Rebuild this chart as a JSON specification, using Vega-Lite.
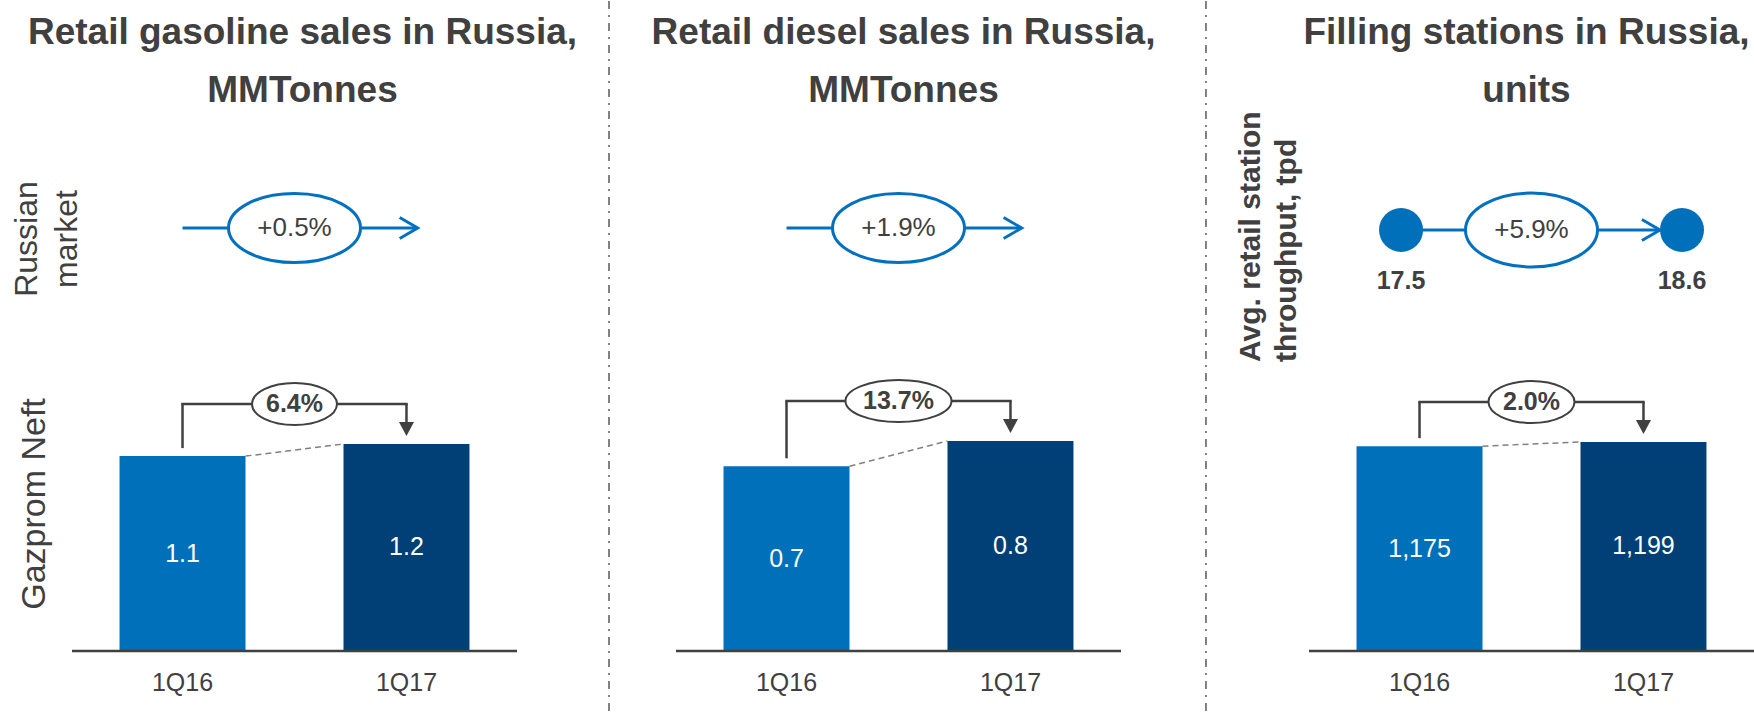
{
  "$schema": "https://vega.github.io/schema/vega-lite/v6.json",
  "padding": {"left": 10, "top": 0, "right": 0, "bottom": 0},
  "autosize": {"type": "pad"},
  "background": "white",
  "config": {"view": {"stroke": null}, "font": "Liberation Sans"},
  "datasets": {
    "titles": [
      {"panel": "gasoline", "title": "Retail gasoline sales in Russia,\nMMTonnes"},
      {"panel": "diesel", "title": "Retail diesel sales in Russia,\nMMTonnes"},
      {"panel": "stations", "title": "Filling stations in Russia,\nunits"}
    ],
    "gasoline": [{"period": "1Q16", "value": 1.13}, {"period": "1Q17", "value": 1.2}],
    "diesel": [{"period": "1Q16", "value": 0.73}, {"period": "1Q17", "value": 0.83}],
    "stations": [{"period": "1Q16", "value": 1175}, {"period": "1Q17", "value": 1199}],
    "gasoline_growth": [{"from": 1.13, "to": 1.2, "pct": "6.4%"}],
    "diesel_growth": [{"from": 0.73, "to": 0.83, "pct": "13.7%"}],
    "stations_growth": [{"from": 1175, "to": 1199, "pct": "2.0%"}],
    "market": [{"product": "gasoline", "pct": "+0.5%"}, {"product": "diesel", "pct": "+1.9%"}],
    "throughput": [{"period": "1Q16", "tpd": 17.5}, {"period": "1Q17", "tpd": 18.6}],
    "throughput_growth": [{"pct": "+5.9%"}],
    "divider": [{"k": "divider"}]
  },
  "columns": 5,
  "spacing": 0,
  "bounds": "flush",
  "align": "each",
  "resolve": {"scale": {"x": "independent", "y": "independent", "color": "independent"}},
  "concat": [
    {
      "width": 445, "height": 130,
      "data": {"name": "titles"},
      "transform": [{"filter": "datum.panel == 'gasoline'"}],
      "mark": {"type": "text", "lineBreak": "\n", "fontSize": 37, "fontWeight": "bold", "lineHeight": 58, "color": "#404040", "align": "center", "baseline": "middle", "dx": 8, "dy": -33},
      "encoding": {"text": {"field": "title", "type": "nominal"}}
    },
    {
      "width": 159, "height": 130,
      "data": {"name": "divider"},
      "mark": {"type": "rule", "color": "#595959", "strokeWidth": 1.5, "strokeDash": [8, 6, 2, 6]},
      "encoding": {"x": {"field": "k", "type": "nominal", "scale": {"type": "point", "padding": 0, "align": 0.5786}, "axis": null}}
    },
    {
      "width": 445, "height": 130,
      "data": {"name": "titles"},
      "transform": [{"filter": "datum.panel == 'diesel'"}],
      "mark": {"type": "text", "lineBreak": "\n", "fontSize": 37, "fontWeight": "bold", "lineHeight": 58, "color": "#404040", "align": "center", "baseline": "middle", "dx": 5, "dy": -33},
      "encoding": {"text": {"field": "title", "type": "nominal"}}
    },
    {
      "width": 188, "height": 130,
      "data": {"name": "divider"},
      "mark": {"type": "rule", "color": "#595959", "strokeWidth": 1.5, "strokeDash": [8, 6, 2, 6]},
      "encoding": {"x": {"field": "k", "type": "nominal", "scale": {"type": "point", "padding": 0, "align": 0.452}, "axis": null}}
    },
    {
      "width": 445, "height": 130,
      "data": {"name": "titles"},
      "transform": [{"filter": "datum.panel == 'stations'"}],
      "mark": {"type": "text", "lineBreak": "\n", "fontSize": 37, "fontWeight": "bold", "lineHeight": 58, "color": "#404040", "align": "center", "baseline": "middle", "dx": -5, "dy": -33},
      "encoding": {"text": {"field": "title", "type": "nominal"}}
    },

    {
      "width": 445, "height": 194,
      "title": {"text": ["Russian", "market"], "orient": "left", "anchor": "middle", "fontSize": 32, "fontWeight": "normal", "color": "#404040", "lineHeight": 40, "offset": -12, "dx": -11},
      "data": {"name": "market"},
      "transform": [{"filter": "datum.product == 'gasoline'"}],
      "layer": [
        {"mark": {"type": "rule", "color": "#0070C0", "strokeWidth": 3},
         "encoding": {"x": {"datum": "1Q16", "type": "nominal", "scale": {"type": "band", "domain": ["1Q16", "growth", "1Q17"], "paddingInner": 0, "paddingOuter": 0.487}, "axis": null}, "x2": {"datum": "1Q17", "bandPosition": 0.6}}},
        {"mark": {"type": "point", "shape": "M-1,-0.58L0,0L-1,0.58", "size": 1296, "filled": false, "stroke": "#0070C0", "strokeWidth": 3, "opacity": 1},
         "encoding": {"x": {"datum": "1Q17", "type": "nominal", "bandPosition": 0.6, "scale": {"type": "band", "domain": ["1Q16", "growth", "1Q17"], "paddingInner": 0, "paddingOuter": 0.487}, "axis": null}}},
        {"mark": {"type": "point", "shape": "M-1,0C-1,-0.289 -0.552,-0.523 0,-0.523C0.552,-0.523 1,-0.289 1,0C1,0.289 0.552,0.523 0,0.523C-0.552,0.523 -1,0.289 -1,0Z", "size": 17424, "filled": true, "fill": "#ffffff", "stroke": "#0070C0", "strokeWidth": 3, "opacity": 1},
         "encoding": {"x": {"datum": "growth", "type": "nominal", "scale": {"type": "band", "domain": ["1Q16", "growth", "1Q17"], "paddingInner": 0, "paddingOuter": 0.487}, "axis": null}}},
        {"mark": {"type": "text", "fontSize": 26, "color": "#404040", "baseline": "middle"},
         "encoding": {"x": {"datum": "growth", "type": "nominal", "scale": {"type": "band", "domain": ["1Q16", "growth", "1Q17"], "paddingInner": 0, "paddingOuter": 0.487}, "axis": null}, "text": {"field": "pct", "type": "nominal"}}}
      ]
    },
    {
      "width": 159, "height": 198,
      "data": {"name": "divider"},
      "mark": {"type": "rule", "color": "#595959", "strokeWidth": 1.5, "strokeDash": [8, 6, 2, 6]},
      "encoding": {"x": {"field": "k", "type": "nominal", "scale": {"type": "point", "padding": 0, "align": 0.5786}, "axis": null}}
    },
    {
      "width": 445, "height": 194,
      "data": {"name": "market"},
      "transform": [{"filter": "datum.product == 'diesel'"}],
      "layer": [
        {"mark": {"type": "rule", "color": "#0070C0", "strokeWidth": 3},
         "encoding": {"x": {"datum": "1Q16", "type": "nominal", "scale": {"type": "band", "domain": ["1Q16", "growth", "1Q17"], "paddingInner": 0, "paddingOuter": 0.487}, "axis": null}, "x2": {"datum": "1Q17", "bandPosition": 0.6}}},
        {"mark": {"type": "point", "shape": "M-1,-0.58L0,0L-1,0.58", "size": 1296, "filled": false, "stroke": "#0070C0", "strokeWidth": 3, "opacity": 1},
         "encoding": {"x": {"datum": "1Q17", "type": "nominal", "bandPosition": 0.6, "scale": {"type": "band", "domain": ["1Q16", "growth", "1Q17"], "paddingInner": 0, "paddingOuter": 0.487}, "axis": null}}},
        {"mark": {"type": "point", "shape": "M-1,0C-1,-0.289 -0.552,-0.523 0,-0.523C0.552,-0.523 1,-0.289 1,0C1,0.289 0.552,0.523 0,0.523C-0.552,0.523 -1,0.289 -1,0Z", "size": 17424, "filled": true, "fill": "#ffffff", "stroke": "#0070C0", "strokeWidth": 3, "opacity": 1},
         "encoding": {"x": {"datum": "growth", "type": "nominal", "scale": {"type": "band", "domain": ["1Q16", "growth", "1Q17"], "paddingInner": 0, "paddingOuter": 0.487}, "axis": null}}},
        {"mark": {"type": "text", "fontSize": 26, "color": "#404040", "baseline": "middle"},
         "encoding": {"x": {"datum": "growth", "type": "nominal", "scale": {"type": "band", "domain": ["1Q16", "growth", "1Q17"], "paddingInner": 0, "paddingOuter": 0.487}, "axis": null}, "text": {"field": "pct", "type": "nominal"}}}
      ]
    },
    {
      "width": 188, "height": 198,
      "data": {"name": "divider"},
      "mark": {"type": "rule", "color": "#595959", "strokeWidth": 1.5, "strokeDash": [8, 6, 2, 6]},
      "encoding": {"x": {"field": "k", "type": "nominal", "scale": {"type": "point", "padding": 0, "align": 0.452}, "axis": null}}
    },
    {
      "width": 445, "height": 198,
      "title": {"text": ["Avg. retail station", "throughput, tpd"], "orient": "left", "anchor": "start", "align": "left", "fontSize": 30, "fontWeight": "bold", "color": "#404040", "lineHeight": 36, "offset": 7, "dx": -33},
      "layer": [
        {"data": {"name": "throughput_growth"},
         "mark": {"type": "rule", "color": "#0070C0", "strokeWidth": 3},
         "encoding": {"x": {"datum": "1Q16", "type": "nominal", "bandPosition": 0.335, "scale": {"type": "band", "domain": ["1Q16", "growth", "1Q17"], "paddingInner": 0, "paddingOuter": 0.487}, "axis": null}, "x2": {"datum": "1Q17", "bandPosition": 0.647}}},
        {"data": {"name": "throughput_growth"},
         "mark": {"type": "point", "shape": "M-1,-0.58L0,0L-1,0.58", "size": 1296, "filled": false, "stroke": "#0070C0", "strokeWidth": 3, "opacity": 1},
         "encoding": {"x": {"datum": "1Q17", "type": "nominal", "bandPosition": 0.647, "scale": {"type": "band", "domain": ["1Q16", "growth", "1Q17"], "paddingInner": 0, "paddingOuter": 0.487}, "axis": null}}},
        {"data": {"name": "throughput"},
         "transform": [{"filter": "datum.period == '1Q16'"}],
         "encoding": {"x": {"field": "period", "type": "nominal", "bandPosition": 0.335, "scale": {"type": "band", "domain": ["1Q16", "growth", "1Q17"], "paddingInner": 0, "paddingOuter": 0.487}, "axis": null}},
         "layer": [
           {"mark": {"type": "point", "shape": "circle", "size": 1936, "filled": true, "color": "#0070BA", "opacity": 1}},
           {"mark": {"type": "text", "fontSize": 25, "fontWeight": "bold", "color": "#404040", "baseline": "middle", "dy": 51},
            "encoding": {"text": {"field": "tpd", "type": "quantitative", "format": ".1f"}}}
         ]},
        {"data": {"name": "throughput"},
         "transform": [{"filter": "datum.period == '1Q17'"}],
         "encoding": {"x": {"field": "period", "type": "nominal", "bandPosition": 0.844, "scale": {"type": "band", "domain": ["1Q16", "growth", "1Q17"], "paddingInner": 0, "paddingOuter": 0.487}, "axis": null}},
         "layer": [
           {"mark": {"type": "point", "shape": "circle", "size": 1936, "filled": true, "color": "#0070BA", "opacity": 1}},
           {"mark": {"type": "text", "fontSize": 25, "fontWeight": "bold", "color": "#404040", "baseline": "middle", "dy": 51},
            "encoding": {"text": {"field": "tpd", "type": "quantitative", "format": ".1f"}}}
         ]},
        {"data": {"name": "throughput_growth"},
         "mark": {"type": "point", "shape": "M-1,0C-1,-0.309 -0.552,-0.56 0,-0.56C0.552,-0.56 1,-0.309 1,0C1,0.309 0.552,0.56 0,0.56C-0.552,0.56 -1,0.309 -1,0Z", "size": 17424, "filled": true, "fill": "#ffffff", "stroke": "#0070C0", "strokeWidth": 3, "opacity": 1},
         "encoding": {"x": {"datum": "growth", "type": "nominal", "scale": {"type": "band", "domain": ["1Q16", "growth", "1Q17"], "paddingInner": 0, "paddingOuter": 0.487}, "axis": null}}},
        {"data": {"name": "throughput_growth"},
         "mark": {"type": "text", "fontSize": 26, "color": "#404040", "baseline": "middle"},
         "encoding": {"x": {"datum": "growth", "type": "nominal", "scale": {"type": "band", "domain": ["1Q16", "growth", "1Q17"], "paddingInner": 0, "paddingOuter": 0.487}, "axis": null}, "text": {"field": "pct", "type": "nominal"}}}
      ]
    },

    {
      "width": 445, "height": 322,
      "title": {"text": "Gazprom Neft", "orient": "left", "anchor": "middle", "fontSize": 34, "fontWeight": "normal", "color": "#404040", "offset": 19, "dx": -14},
      "resolve": {"scale": {"y": "independent"}},
      "layer": [
        {"data": {"name": "gasoline_growth"},
         "mark": {"type": "rule", "color": "#808080", "strokeWidth": 1.5, "strokeDash": [6, 4]},
         "encoding": {"x": {"datum": "growth", "type": "nominal", "bandPosition": 0.0625, "scale": {"type": "band", "domain": ["1Q16", "growth", "1Q17"], "paddingInner": 0, "paddingOuter": 0.487}, "axis": null}, "x2": {"datum": "growth", "bandPosition": 0.9375},
                      "y": {"field": "from", "type": "quantitative", "scale": {"domain": [0, 1.867], "nice": false}, "axis": null}, "y2": {"field": "to"}}},
        {"data": {"name": "gasoline"},
         "mark": {"type": "bar", "width": {"band": 1.125}},
         "encoding": {"x": {"field": "period", "type": "nominal", "scale": {"type": "band", "domain": ["1Q16", "growth", "1Q17"], "paddingInner": 0, "paddingOuter": 0.487}, "axis": null},
                      "y": {"field": "value", "type": "quantitative", "scale": {"domain": [0, 1.867], "nice": false}, "axis": null},
                      "color": {"field": "period", "type": "nominal", "scale": {"domain": ["1Q16", "1Q17"], "range": ["#0070BA", "#004077"]}, "legend": null}}},
        {"data": {"name": "gasoline_growth"},
         "mark": {"type": "rule", "color": "#404040", "strokeWidth": 2.5},
         "encoding": {"y": {"datum": 0, "type": "quantitative", "scale": {"domain": [0, 1.867], "nice": false}, "axis": null}}},
        {"data": {"name": "gasoline"},
         "mark": {"type": "text", "color": "#404040", "fontSize": 25, "baseline": "top", "dy": 20},
         "encoding": {"x": {"field": "period", "type": "nominal", "scale": {"type": "band", "domain": ["1Q16", "growth", "1Q17"], "paddingInner": 0, "paddingOuter": 0.487}, "axis": null},
                      "y": {"datum": 0, "type": "quantitative", "scale": {"domain": [0, 1.867], "nice": false}, "axis": null},
                      "text": {"field": "period", "type": "nominal"}}},
        {"data": {"name": "gasoline"},
         "mark": {"type": "text", "color": "#ffffff", "fontSize": 25, "baseline": "middle"},
         "encoding": {"x": {"field": "period", "type": "nominal", "scale": {"type": "band", "domain": ["1Q16", "growth", "1Q17"], "paddingInner": 0, "paddingOuter": 0.487}, "axis": null},
                      "y": {"field": "value", "type": "quantitative", "scale": {"domain": [0, 3.733], "nice": false}, "axis": null},
                      "text": {"field": "value", "type": "quantitative", "format": ".1f"}}},
        {"data": {"name": "gasoline_growth"},
         "mark": {"type": "rule", "color": "#404040", "strokeWidth": 2.5, "yOffset": -8, "y2Offset": -40},
         "encoding": {"x": {"datum": "1Q16", "type": "nominal", "scale": {"type": "band", "domain": ["1Q16", "growth", "1Q17"], "paddingInner": 0, "paddingOuter": 0.487}, "axis": null},
                      "y": {"field": "from", "type": "quantitative", "scale": {"domain": [0, 1.867], "nice": false}, "axis": null}, "y2": {"field": "to"}}},
        {"data": {"name": "gasoline_growth"},
         "mark": {"type": "rule", "color": "#404040", "strokeWidth": 2.5, "yOffset": -40, "strokeCap": "square"},
         "encoding": {"x": {"datum": "1Q16", "type": "nominal", "scale": {"type": "band", "domain": ["1Q16", "growth", "1Q17"], "paddingInner": 0, "paddingOuter": 0.487}, "axis": null}, "x2": {"datum": "1Q17"},
                      "y": {"field": "to", "type": "quantitative", "scale": {"domain": [0, 1.867], "nice": false}, "axis": null}}},
        {"data": {"name": "gasoline_growth"},
         "mark": {"type": "rule", "color": "#404040", "strokeWidth": 2.5, "yOffset": -40, "y2Offset": -20},
         "encoding": {"x": {"datum": "1Q17", "type": "nominal", "scale": {"type": "band", "domain": ["1Q16", "growth", "1Q17"], "paddingInner": 0, "paddingOuter": 0.487}, "axis": null},
                      "y": {"field": "to", "type": "quantitative", "scale": {"domain": [0, 1.867], "nice": false}, "axis": null}, "y2": {"field": "to"}}},
        {"data": {"name": "gasoline_growth"},
         "mark": {"type": "point", "shape": "M-1,-0.93L1,-0.93L0,0.93Z", "size": 225, "filled": true, "color": "#404040", "opacity": 1, "yOffset": -15},
         "encoding": {"x": {"datum": "1Q17", "type": "nominal", "scale": {"type": "band", "domain": ["1Q16", "growth", "1Q17"], "paddingInner": 0, "paddingOuter": 0.487}, "axis": null},
                      "y": {"field": "to", "type": "quantitative", "scale": {"domain": [0, 1.867], "nice": false}, "axis": null}}},
        {"data": {"name": "gasoline_growth"},
         "mark": {"type": "point", "shape": "M-1,0C-1,-0.273 -0.552,-0.494 0,-0.494C0.552,-0.494 1,-0.273 1,0C1,0.273 0.552,0.494 0,0.494C-0.552,0.494 -1,0.273 -1,0Z", "size": 7225, "filled": true, "fill": "#ffffff", "stroke": "#404040", "strokeWidth": 2, "opacity": 1, "yOffset": -40},
         "encoding": {"x": {"datum": "growth", "type": "nominal", "scale": {"type": "band", "domain": ["1Q16", "growth", "1Q17"], "paddingInner": 0, "paddingOuter": 0.487}, "axis": null},
                      "y": {"field": "to", "type": "quantitative", "scale": {"domain": [0, 1.867], "nice": false}, "axis": null}}},
        {"data": {"name": "gasoline_growth"},
         "mark": {"type": "text", "fontSize": 25, "fontWeight": "bold", "color": "#404040", "baseline": "middle", "yOffset": -40},
         "encoding": {"x": {"datum": "growth", "type": "nominal", "scale": {"type": "band", "domain": ["1Q16", "growth", "1Q17"], "paddingInner": 0, "paddingOuter": 0.487}, "axis": null},
                      "y": {"field": "to", "type": "quantitative", "scale": {"domain": [0, 1.867], "nice": false}, "axis": null},
                      "text": {"field": "pct", "type": "nominal"}}}
      ]
    },
    {
      "width": 159, "height": 387,
      "data": {"name": "divider"},
      "mark": {"type": "rule", "color": "#595959", "strokeWidth": 1.5, "strokeDash": [8, 6, 2, 6]},
      "encoding": {"x": {"field": "k", "type": "nominal", "scale": {"type": "point", "padding": 0, "align": 0.5786}, "axis": null}}
    },
    {
      "width": 445, "height": 322,
      "resolve": {"scale": {"y": "independent"}},
      "layer": [
        {"data": {"name": "diesel_growth"},
         "mark": {"type": "rule", "color": "#808080", "strokeWidth": 1.5, "strokeDash": [6, 4]},
         "encoding": {"x": {"datum": "growth", "type": "nominal", "bandPosition": 0.0625, "scale": {"type": "band", "domain": ["1Q16", "growth", "1Q17"], "paddingInner": 0, "paddingOuter": 0.487}, "axis": null}, "x2": {"datum": "growth", "bandPosition": 0.9375},
                      "y": {"field": "from", "type": "quantitative", "scale": {"domain": [0, 1.2727], "nice": false}, "axis": null}, "y2": {"field": "to"}}},
        {"data": {"name": "diesel"},
         "mark": {"type": "bar", "width": {"band": 1.125}},
         "encoding": {"x": {"field": "period", "type": "nominal", "scale": {"type": "band", "domain": ["1Q16", "growth", "1Q17"], "paddingInner": 0, "paddingOuter": 0.487}, "axis": null},
                      "y": {"field": "value", "type": "quantitative", "scale": {"domain": [0, 1.2727], "nice": false}, "axis": null},
                      "color": {"field": "period", "type": "nominal", "scale": {"domain": ["1Q16", "1Q17"], "range": ["#0070BA", "#004077"]}, "legend": null}}},
        {"data": {"name": "diesel_growth"},
         "mark": {"type": "rule", "color": "#404040", "strokeWidth": 2.5},
         "encoding": {"y": {"datum": 0, "type": "quantitative", "scale": {"domain": [0, 1.2727], "nice": false}, "axis": null}}},
        {"data": {"name": "diesel"},
         "mark": {"type": "text", "color": "#404040", "fontSize": 25, "baseline": "top", "dy": 20},
         "encoding": {"x": {"field": "period", "type": "nominal", "scale": {"type": "band", "domain": ["1Q16", "growth", "1Q17"], "paddingInner": 0, "paddingOuter": 0.487}, "axis": null},
                      "y": {"datum": 0, "type": "quantitative", "scale": {"domain": [0, 1.2727], "nice": false}, "axis": null},
                      "text": {"field": "period", "type": "nominal"}}},
        {"data": {"name": "diesel"},
         "mark": {"type": "text", "color": "#ffffff", "fontSize": 25, "baseline": "middle"},
         "encoding": {"x": {"field": "period", "type": "nominal", "scale": {"type": "band", "domain": ["1Q16", "growth", "1Q17"], "paddingInner": 0, "paddingOuter": 0.487}, "axis": null},
                      "y": {"field": "value", "type": "quantitative", "scale": {"domain": [0, 2.5454], "nice": false}, "axis": null},
                      "text": {"field": "value", "type": "quantitative", "format": ".1f"}}},
        {"data": {"name": "diesel_growth"},
         "mark": {"type": "rule", "color": "#404040", "strokeWidth": 2.5, "yOffset": -8, "y2Offset": -40},
         "encoding": {"x": {"datum": "1Q16", "type": "nominal", "scale": {"type": "band", "domain": ["1Q16", "growth", "1Q17"], "paddingInner": 0, "paddingOuter": 0.487}, "axis": null},
                      "y": {"field": "from", "type": "quantitative", "scale": {"domain": [0, 1.2727], "nice": false}, "axis": null}, "y2": {"field": "to"}}},
        {"data": {"name": "diesel_growth"},
         "mark": {"type": "rule", "color": "#404040", "strokeWidth": 2.5, "yOffset": -40, "strokeCap": "square"},
         "encoding": {"x": {"datum": "1Q16", "type": "nominal", "scale": {"type": "band", "domain": ["1Q16", "growth", "1Q17"], "paddingInner": 0, "paddingOuter": 0.487}, "axis": null}, "x2": {"datum": "1Q17"},
                      "y": {"field": "to", "type": "quantitative", "scale": {"domain": [0, 1.2727], "nice": false}, "axis": null}}},
        {"data": {"name": "diesel_growth"},
         "mark": {"type": "rule", "color": "#404040", "strokeWidth": 2.5, "yOffset": -40, "y2Offset": -20},
         "encoding": {"x": {"datum": "1Q17", "type": "nominal", "scale": {"type": "band", "domain": ["1Q16", "growth", "1Q17"], "paddingInner": 0, "paddingOuter": 0.487}, "axis": null},
                      "y": {"field": "to", "type": "quantitative", "scale": {"domain": [0, 1.2727], "nice": false}, "axis": null}, "y2": {"field": "to"}}},
        {"data": {"name": "diesel_growth"},
         "mark": {"type": "point", "shape": "M-1,-0.93L1,-0.93L0,0.93Z", "size": 225, "filled": true, "color": "#404040", "opacity": 1, "yOffset": -15},
         "encoding": {"x": {"datum": "1Q17", "type": "nominal", "scale": {"type": "band", "domain": ["1Q16", "growth", "1Q17"], "paddingInner": 0, "paddingOuter": 0.487}, "axis": null},
                      "y": {"field": "to", "type": "quantitative", "scale": {"domain": [0, 1.2727], "nice": false}, "axis": null}}},
        {"data": {"name": "diesel_growth"},
         "mark": {"type": "point", "shape": "M-1,0C-1,-0.219 -0.552,-0.396 0,-0.396C0.552,-0.396 1,-0.219 1,0C1,0.219 0.552,0.396 0,0.396C-0.552,0.396 -1,0.219 -1,0Z", "size": 11236, "filled": true, "fill": "#ffffff", "stroke": "#404040", "strokeWidth": 2, "opacity": 1, "yOffset": -40},
         "encoding": {"x": {"datum": "growth", "type": "nominal", "scale": {"type": "band", "domain": ["1Q16", "growth", "1Q17"], "paddingInner": 0, "paddingOuter": 0.487}, "axis": null},
                      "y": {"field": "to", "type": "quantitative", "scale": {"domain": [0, 1.2727], "nice": false}, "axis": null}}},
        {"data": {"name": "diesel_growth"},
         "mark": {"type": "text", "fontSize": 25, "fontWeight": "bold", "color": "#404040", "baseline": "middle", "yOffset": -40},
         "encoding": {"x": {"datum": "growth", "type": "nominal", "scale": {"type": "band", "domain": ["1Q16", "growth", "1Q17"], "paddingInner": 0, "paddingOuter": 0.487}, "axis": null},
                      "y": {"field": "to", "type": "quantitative", "scale": {"domain": [0, 1.2727], "nice": false}, "axis": null},
                      "text": {"field": "pct", "type": "nominal"}}}
      ]
    },
    {
      "width": 188, "height": 387,
      "data": {"name": "divider"},
      "mark": {"type": "rule", "color": "#595959", "strokeWidth": 1.5, "strokeDash": [8, 6, 2, 6]},
      "encoding": {"x": {"field": "k", "type": "nominal", "scale": {"type": "point", "padding": 0, "align": 0.452}, "axis": null}}
    },
    {
      "width": 445, "height": 322,
      "resolve": {"scale": {"y": "independent"}},
      "layer": [
        {"data": {"name": "stations_growth"},
         "mark": {"type": "rule", "color": "#808080", "strokeWidth": 1.5, "strokeDash": [6, 4]},
         "encoding": {"x": {"datum": "growth", "type": "nominal", "bandPosition": 0.0625, "scale": {"type": "band", "domain": ["1Q16", "growth", "1Q17"], "paddingInner": 0, "paddingOuter": 0.487}, "axis": null}, "x2": {"datum": "growth", "bandPosition": 0.9375},
                      "y": {"field": "from", "type": "quantitative", "scale": {"domain": [0, 1847], "nice": false}, "axis": null}, "y2": {"field": "to"}}},
        {"data": {"name": "stations"},
         "mark": {"type": "bar", "width": {"band": 1.125}},
         "encoding": {"x": {"field": "period", "type": "nominal", "scale": {"type": "band", "domain": ["1Q16", "growth", "1Q17"], "paddingInner": 0, "paddingOuter": 0.487}, "axis": null},
                      "y": {"field": "value", "type": "quantitative", "scale": {"domain": [0, 1847], "nice": false}, "axis": null},
                      "color": {"field": "period", "type": "nominal", "scale": {"domain": ["1Q16", "1Q17"], "range": ["#0070BA", "#004077"]}, "legend": null}}},
        {"data": {"name": "stations_growth"},
         "mark": {"type": "rule", "color": "#404040", "strokeWidth": 2.5},
         "encoding": {"y": {"datum": 0, "type": "quantitative", "scale": {"domain": [0, 1847], "nice": false}, "axis": null}}},
        {"data": {"name": "stations"},
         "mark": {"type": "text", "color": "#404040", "fontSize": 25, "baseline": "top", "dy": 20},
         "encoding": {"x": {"field": "period", "type": "nominal", "scale": {"type": "band", "domain": ["1Q16", "growth", "1Q17"], "paddingInner": 0, "paddingOuter": 0.487}, "axis": null},
                      "y": {"datum": 0, "type": "quantitative", "scale": {"domain": [0, 1847], "nice": false}, "axis": null},
                      "text": {"field": "period", "type": "nominal"}}},
        {"data": {"name": "stations"},
         "mark": {"type": "text", "color": "#ffffff", "fontSize": 25, "baseline": "middle"},
         "encoding": {"x": {"field": "period", "type": "nominal", "scale": {"type": "band", "domain": ["1Q16", "growth", "1Q17"], "paddingInner": 0, "paddingOuter": 0.487}, "axis": null},
                      "y": {"field": "value", "type": "quantitative", "scale": {"domain": [0, 3694], "nice": false}, "axis": null},
                      "text": {"field": "value", "type": "quantitative", "format": ",.0f"}}},
        {"data": {"name": "stations_growth"},
         "mark": {"type": "rule", "color": "#404040", "strokeWidth": 2.5, "yOffset": -8, "y2Offset": -40},
         "encoding": {"x": {"datum": "1Q16", "type": "nominal", "scale": {"type": "band", "domain": ["1Q16", "growth", "1Q17"], "paddingInner": 0, "paddingOuter": 0.487}, "axis": null},
                      "y": {"field": "from", "type": "quantitative", "scale": {"domain": [0, 1847], "nice": false}, "axis": null}, "y2": {"field": "to"}}},
        {"data": {"name": "stations_growth"},
         "mark": {"type": "rule", "color": "#404040", "strokeWidth": 2.5, "yOffset": -40, "strokeCap": "square"},
         "encoding": {"x": {"datum": "1Q16", "type": "nominal", "scale": {"type": "band", "domain": ["1Q16", "growth", "1Q17"], "paddingInner": 0, "paddingOuter": 0.487}, "axis": null}, "x2": {"datum": "1Q17"},
                      "y": {"field": "to", "type": "quantitative", "scale": {"domain": [0, 1847], "nice": false}, "axis": null}}},
        {"data": {"name": "stations_growth"},
         "mark": {"type": "rule", "color": "#404040", "strokeWidth": 2.5, "yOffset": -40, "y2Offset": -20},
         "encoding": {"x": {"datum": "1Q17", "type": "nominal", "scale": {"type": "band", "domain": ["1Q16", "growth", "1Q17"], "paddingInner": 0, "paddingOuter": 0.487}, "axis": null},
                      "y": {"field": "to", "type": "quantitative", "scale": {"domain": [0, 1847], "nice": false}, "axis": null}, "y2": {"field": "to"}}},
        {"data": {"name": "stations_growth"},
         "mark": {"type": "point", "shape": "M-1,-0.93L1,-0.93L0,0.93Z", "size": 225, "filled": true, "color": "#404040", "opacity": 1, "yOffset": -15},
         "encoding": {"x": {"datum": "1Q17", "type": "nominal", "scale": {"type": "band", "domain": ["1Q16", "growth", "1Q17"], "paddingInner": 0, "paddingOuter": 0.487}, "axis": null},
                      "y": {"field": "to", "type": "quantitative", "scale": {"domain": [0, 1847], "nice": false}, "axis": null}}},
        {"data": {"name": "stations_growth"},
         "mark": {"type": "point", "shape": "M-1,0C-1,-0.27 -0.552,-0.488 0,-0.488C0.552,-0.488 1,-0.27 1,0C1,0.27 0.552,0.488 0,0.488C-0.552,0.488 -1,0.27 -1,0Z", "size": 7396, "filled": true, "fill": "#ffffff", "stroke": "#404040", "strokeWidth": 2, "opacity": 1, "yOffset": -40},
         "encoding": {"x": {"datum": "growth", "type": "nominal", "scale": {"type": "band", "domain": ["1Q16", "growth", "1Q17"], "paddingInner": 0, "paddingOuter": 0.487}, "axis": null},
                      "y": {"field": "to", "type": "quantitative", "scale": {"domain": [0, 1847], "nice": false}, "axis": null}}},
        {"data": {"name": "stations_growth"},
         "mark": {"type": "text", "fontSize": 25, "fontWeight": "bold", "color": "#404040", "baseline": "middle", "yOffset": -40},
         "encoding": {"x": {"datum": "growth", "type": "nominal", "scale": {"type": "band", "domain": ["1Q16", "growth", "1Q17"], "paddingInner": 0, "paddingOuter": 0.487}, "axis": null},
                      "y": {"field": "to", "type": "quantitative", "scale": {"domain": [0, 1847], "nice": false}, "axis": null},
                      "text": {"field": "pct", "type": "nominal"}}}
      ]
    }
  ]
}
